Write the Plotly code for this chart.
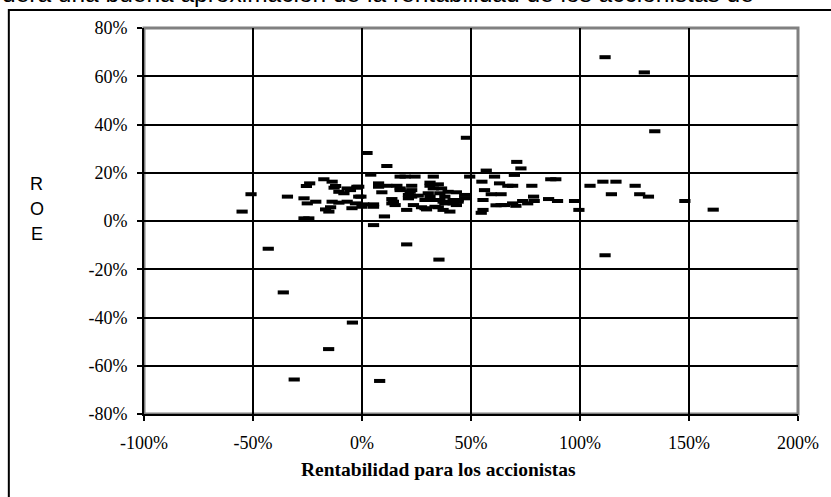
import plotly.graph_objects as go

# Shareholder return (%) vs ROE (%)
shareholder_return = [
    -55.0, -50.9, -43.0, -36.1, -34.2, -31.1, -26.6, -25.1, -26.6, -24.4,
    -24.0, -25.5, -21.2, -17.5, -16.7, -15.2, -15.3, -13.7, -12.1, -13.7,
    -10.6, -10.6, -8.3, -6.8, -5.3, -4.6, -4.4, -3.0, -2.3, -0.5,
    0.0, -6.8, -2.3, -14.4, 2.3, 4.0, 0.8, 5.3, 5.3, 5.3,
    7.6, 7.6, 8.1, 9.1, 10.3, 11.4, 11.4, 13.7, 14.4, 15.2,
    16.0, 17.5, 17.5, 19.8, 20.5, 20.5, 21.3, 21.3, 22.1, 22.8,
    22.8, 23.6, 24.3, 25.8, 27.3, 28.9, 28.9, 30.4, 31.2, 31.2,
    31.2, 31.9, 32.7, 32.7, 33.5, 35.0, 35.7, 35.7, 35.3, 36.5,
    37.2, 37.2, 38.0, 38.0, 39.5, 40.3, 41.8, 42.6, 43.3, 43.3,
    44.1, 47.1, 47.1, 47.9, 49.4, 55.0, 55.5, 55.5, 54.7, 56.2,
    57.0, 59.3, 60.8, 61.5, 63.1, 63.8, 63.8, 65.4, 66.9, 69.1,
    69.1, 69.9, 70.6, 71.0, 72.9, 73.7, 76.0, 77.9, 78.7, 79.0,
    85.6, 86.6, 88.9, 89.7, 97.5, 99.5, 104.6, 110.5, 111.5, 111.5,
    114.4, 116.5, 125.3, 127.4, 129.5, 131.4, 134.3, 148.1, 161.1, 17.5,
    22.8, 35.0, 41.8, 44.1, 29.6, 13.7, -1.5, -1.5, -12.8,
]
roe = [
    3.9, 11.1, -11.5, -29.6, 10.1, -65.7, 9.4, 7.3, 1.1, 1.1,
    15.6, 14.5, 8.0, 17.3, 4.8, 3.9, -53.1, 16.3, 14.5, 8.0,
    12.1, 7.6, 11.5, 8.0, 12.8, 5.3, -42.1, 7.3, 13.8, 10.1,
    5.9, 13.5, 14.2, 5.7, 28.2, 19.2, 6.9, 6.9, 5.9, -1.7,
    15.6, 14.2, -66.3, 11.9, 1.9, 22.8, 14.6, 9.1, 8.0, 6.6,
    14.6, 13.5, 18.4, 18.4, 4.6, -9.7, 9.4, 10.8, 12.1, 14.6,
    10.1, 6.6, 18.4, 10.5, 5.7, 8.7, 5.3, 11.5, 15.9, 14.6,
    10.1, 8.7, 18.4, 13.5, 5.9, 15.2, 8.7, 11.5, -16.0, 13.5,
    8.0, 4.6, 10.1, 7.3, 12.1, 3.9, 7.3, 8.7, 11.9, 6.6,
    8.0, 10.8, 9.4, 34.5, 18.4, 16.3, 8.7, 4.6, 3.4, 12.8,
    20.9, 11.1, 18.4, 6.5, 15.6, 11.1, 6.6, 6.6, 14.6, 14.6,
    7.3, 19.1, 6.3, 24.5, 21.8, 8.3, 7.3, 14.6, 10.1, 8.3,
    9.1, 17.3, 17.3, 8.3, 8.3, 4.6, 14.6, 16.3, 67.9, -14.2,
    11.1, 16.3, 14.6, 11.1, 61.6, 10.1, 37.2, 8.3, 4.7, 12.8,
    12.8, 5.7, 8.7, 8.7, 4.8, 7.3, 14.2, 10.1, 13.8,
]

x_tick_values = [-100, -50, 0, 50, 100, 150, 200]
x_tick_labels = ["-100%", "-50%", "0%", "50%", "100%", "150%", "200%"]
y_tick_values = [-80, -60, -40, -20, 0, 20, 40, 60, 80]
y_tick_labels = ["-80%", "-60%", "-40%", "-20%", "0%", "20%", "40%", "60%", "80%"]

x_title = "Rentabilidad para los accionistas"
y_title_letters = ["R", "O", "E"]
top_text = "dera una buena aproximación de la rentabilidad de los accionistas de"

W, H = 831, 497
L, T = 144, 28
R, B = W - 802, H - 414
PW, PH = W - L - R, H - T - B


def px(xs):
    """page x pixel -> paper x"""
    return (xs - L) / PW


def py(ys):
    """page y pixel -> paper y"""
    return (H - B - ys) / PH


fig = go.Figure()
fig.add_trace(go.Scatter(
    x=shareholder_return, y=roe, mode="markers",
    marker=dict(symbol="line-ew", size=8, color="black",
                line=dict(color="black", width=4)),
    hoverinfo="x+y", cliponaxis=False,
))

serif = "Liberation Serif, Times New Roman, serif"
sans = "Liberation Sans, Arial, sans-serif"

axis_common = dict(
    showgrid=True, gridcolor="black", gridwidth=1.5,
    zeroline=False, showline=True, linecolor="black", linewidth=2,
    ticks="outside", ticklen=5, tickwidth=1.5, tickcolor="black",
    tickfont=dict(family=serif, size=18, color="black"),
    tickmode="array",
)

fig.update_layout(
    width=W, height=H,
    margin=dict(l=L, r=R, t=T, b=B, pad=0),
    paper_bgcolor="white", plot_bgcolor="white",
    showlegend=False,
    xaxis=dict(range=[-100, 200], tickvals=x_tick_values, ticktext=x_tick_labels,
               ticklabelstandoff=6, **axis_common),
    yaxis=dict(range=[-80, 80], tickvals=y_tick_values, ticktext=y_tick_labels,
               ticklabelstandoff=6, **axis_common),
)

# grey plot-area border (top/right)
fig.add_shape(type="rect", xref="paper", yref="paper", x0=0, x1=1, y0=0, y1=1,
              line=dict(color="#808080", width=3), layer="below")
# outer frame
fig.add_shape(type="rect", xref="paper", yref="paper",
              x0=px(8), x1=px(845), y0=py(510), y1=py(10),
              line=dict(color="black", width=2), layer="below")

annotations = []
for i, letter in enumerate(y_title_letters):
    annotations.append(dict(
        text=letter, xref="paper", yref="paper", x=px(36), y=py(184 + 25 * i),
        xanchor="center", yanchor="middle", showarrow=False,
        font=dict(family=sans, size=18, color="black")))
annotations.append(dict(
    text="<b>" + x_title + "</b>", xref="paper", yref="paper",
    x=px(440), y=py(469), xanchor="center", yanchor="middle", showarrow=False,
    font=dict(family=serif, size=19.5, color="black")))
annotations.append(dict(
    text=top_text, xref="paper", yref="paper",
    x=px(-1), y=py(-6.5), xanchor="left", yanchor="middle", showarrow=False,
    font=dict(family=sans, size=24.5, color="black")))
fig.update_layout(annotations=annotations)

fig.write_html("out.html", config={"displayModeBar": False},
               post_script="document.body.style.margin='0px';")
